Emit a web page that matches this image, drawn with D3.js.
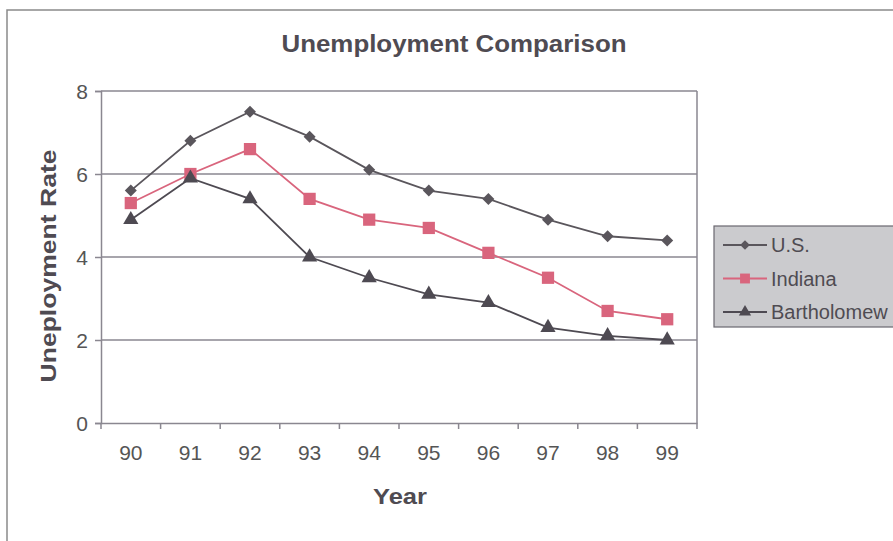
<!DOCTYPE html>
<html><head><meta charset="utf-8">
<script src="https://cdn.jsdelivr.net/npm/d3@7"></script>
<style>body{margin:0;background:#fff}svg{display:block}text{font-family:"Liberation Sans",Arial,sans-serif}</style>
</head><body>
<script>
const years = ["90","91","92","93","94","95","96","97","98","99"];
const usValues = [5.6, 6.8, 7.5, 6.9, 6.1, 5.6, 5.4, 4.9, 4.5, 4.4];
const indianaValues = [5.3, 6.0, 6.6, 5.4, 4.9, 4.7, 4.1, 3.5, 2.7, 2.5];
const bartholomewValues = [4.9, 5.9, 5.4, 4.0, 3.5, 3.1, 2.9, 2.3, 2.1, 2.0];
const seriesNames = ["U.S.", "Indiana", "Bartholomew"];
const yTicks = [0, 2, 4, 6, 8];

const W = 893, H = 541;
const svg = d3.select("body").append("svg").attr("width", W).attr("height", H);
const pL = 101, pR = 697, pT = 91, pB = 423;
const x = d3.scaleBand().domain(years).range([pL, pR]);
const y = d3.scaleLinear().domain([0, 8]).range([pB, pT]);
const textCol = "#4f4b52", lineCol = "#5a565c", pink = "#d9657d", axisCol = "#8a8790";

// outer frame
svg.append("path").attr("d", `M7,541 V10 H893`).attr("fill", "none").attr("stroke", "#8a8a8a").attr("stroke-width", 1.5);

svg.append("text").attr("x", 454).attr("y", 52).attr("text-anchor", "middle")
  .attr("font-size", 23).attr("font-weight", "bold").attr("fill", textCol)
  .attr("textLength", 345).attr("lengthAdjust", "spacingAndGlyphs").text("Unemployment Comparison");

// gridlines
svg.append("g").selectAll("line").data(yTicks.filter(d => d > 0)).join("line")
  .attr("x1", pL).attr("x2", pR).attr("y1", d => y(d)).attr("y2", d => y(d))
  .attr("stroke", axisCol).attr("stroke-width", 1.5);
// right border
svg.append("line").attr("x1", pR).attr("x2", pR).attr("y1", pT).attr("y2", pB).attr("stroke", axisCol).attr("stroke-width", 1.5);

const yAxis = svg.append("g").attr("transform", `translate(${pL},0)`)
  .call(d3.axisLeft(y).tickValues(yTicks).tickSize(6).tickPadding(7));
const xAxis = svg.append("g").attr("transform", `translate(0,${pB})`)
  .call(d3.axisBottom(x).tickSize(0).tickPadding(22));
xAxis.selectAll(".tick").append("line").attr("x1", -x.bandwidth()/2).attr("x2", -x.bandwidth()/2).attr("y2", 6).attr("stroke", axisCol).attr("stroke-width", 1.5);
xAxis.append("line").attr("x1", pR).attr("x2", pR).attr("y2", 6).attr("stroke", axisCol).attr("stroke-width", 1.5);
[yAxis, xAxis].forEach(g => {
  g.select(".domain").attr("stroke", axisCol).attr("stroke-width", 1.5);
  g.selectAll(".tick line").attr("stroke", axisCol).attr("stroke-width", 1.5);
  g.selectAll("text").attr("font-size", 21).attr("fill", "#555").attr("font-family", "Liberation Sans, Arial, sans-serif");
});
yAxis.selectAll("text").attr("dy", "0.36em");

svg.append("text").attr("transform", `translate(56,266) rotate(-90)`)
  .attr("text-anchor", "middle").attr("font-size", 22).attr("font-weight", "bold").attr("fill", textCol)
  .attr("textLength", 233).attr("lengthAdjust", "spacingAndGlyphs").text("Uneployment Rate");
svg.append("text").attr("x", 400).attr("y", 504).attr("text-anchor", "middle")
  .attr("font-size", 22).attr("font-weight", "bold").attr("fill", textCol)
  .attr("textLength", 54).attr("lengthAdjust", "spacingAndGlyphs").text("Year");

const series = [
  {name: seriesNames[0], values: usValues, color: lineCol, sym: d3.symbolSquare, size: 72, rot: 45},
  {name: seriesNames[1], values: indianaValues, color: pink, sym: d3.symbolSquare, size: 150, rot: 0},
  {name: seriesNames[2], values: bartholomewValues, color: "#4e4a52", sym: d3.symbolTriangle, size: 100, rot: 0}
];
const line = d3.line().x((d, i) => x(years[i]) + x.bandwidth()/2).y(d => y(d));
series.forEach(s => {
  svg.append("path").datum(s.values).attr("d", line).attr("fill", "none").attr("stroke", s.color).attr("stroke-width", 1.8);
  svg.append("g").selectAll("path").data(s.values).join("path")
    .attr("transform", (d, i) => `translate(${x(years[i]) + x.bandwidth()/2},${y(d)}) rotate(${s.rot})`)
    .attr("d", d3.symbol().type(s.sym).size(s.size)).attr("fill", s.color);
});

// legend
const lg = svg.append("g");
lg.append("rect").attr("x", 714).attr("y", 226).attr("width", 185).attr("height", 101)
  .attr("fill", "#cbcbce").attr("stroke", "#6a6870").attr("stroke-width", 1.2);
series.forEach((s, i) => {
  const yy = 245 + i * 33.5;
  lg.append("line").attr("x1", 723).attr("x2", 767).attr("y1", yy).attr("y2", yy).attr("stroke", s.color).attr("stroke-width", 1.8);
  lg.append("path").attr("transform", `translate(745,${yy}) rotate(${s.rot})`).attr("d", d3.symbol().type(s.sym).size(s.size * 0.65)).attr("fill", s.color);
  lg.append("text").attr("x", 771).attr("y", yy).attr("dy", "0.36em").attr("font-size", 20).attr("fill", textCol).text(s.name);
});
</script>
</body></html>
